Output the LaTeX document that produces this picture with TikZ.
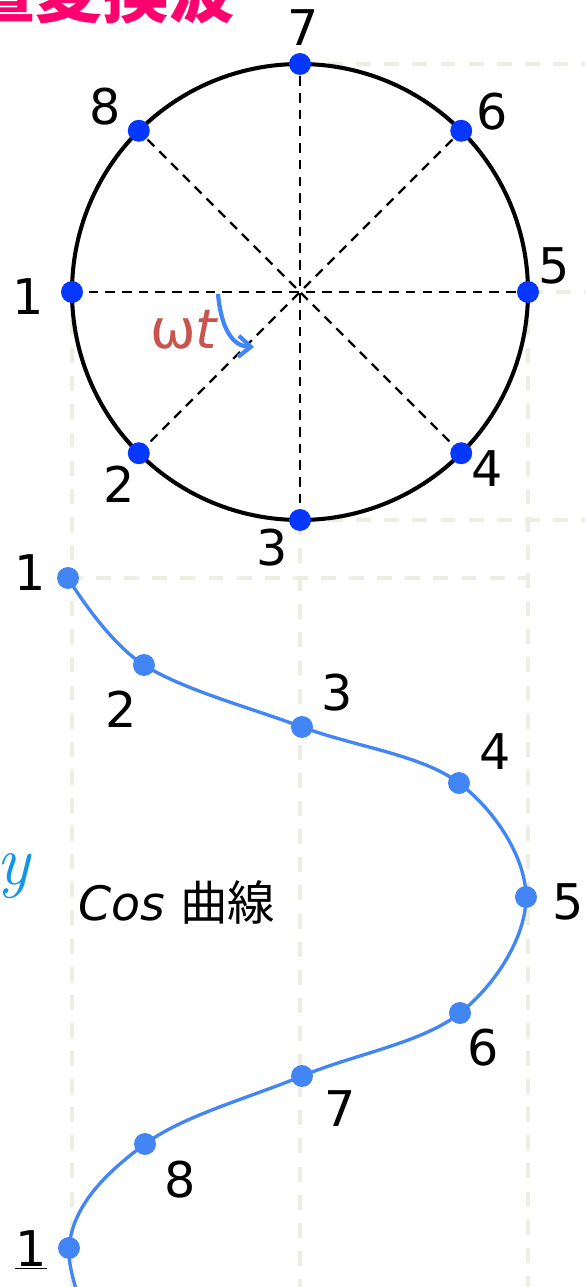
\documentclass[tikz,border=0pt]{standalone}
\usepackage{fontspec}
\setmainfont{DejaVu Sans}
\newfontfamily\jpfont{Noto Sans CJK JP}
\newfontfamily\lmroman{Latin Modern Roman}
\usetikzlibrary{arrows.meta}

\begin{document}
\begin{tikzpicture}[x=0.02cm, y=-0.02cm, line join=round]

    % --- Colors ---
    \definecolor{guidebeige}{RGB}{238,237,226}
    \definecolor{ringdot}{RGB}{5,55,255}
    \definecolor{wavecol}{RGB}{66,133,244}
    \definecolor{omegared}{RGB}{201,84,78}
    \definecolor{ycol}{RGB}{20,150,230}
    \definecolor{titlepink}{RGB}{255,0,110}

    \tikzset{
        guide/.style={guidebeige, line width=2.3pt, dash pattern=on 8.5pt off 7.5pt},
        diam/.style={black, line width=1.3pt, dash pattern=on 5.5pt off 4pt},
        ringpt/.style={circle, fill=ringdot, inner sep=0pt, minimum size=12.5pt},
        wavept/.style={circle, fill=wavecol, inner sep=0pt, minimum size=12.5pt},
        num/.style={font=\fontsize{28}{30}\selectfont, inner sep=0pt},
    }

    \useasboundingbox (0,0) rectangle (585,1287);

    % --- Coordinates ---
    \coordinate (ctr) at (300,292);
    \coordinate (bot) at (0,1287);
    \coordinate (redge) at (585,0);
    \foreach \k in {1,...,8} {
        \path (ctr) ++({180-45*(\k-1)}:228) coordinate (c\k);
    }

    % Cos curve points
    \coordinate (p1) at (68,578);
    \coordinate (p2) at (144,665);
    \coordinate (p3) at (302,727);
    \coordinate (p4) at (459,783);
    \coordinate (p5) at (526,897);
    \coordinate (p6) at (460,1013);
    \coordinate (p7) at (302,1076);
    \coordinate (p8) at (145,1144);
    \coordinate (p9) at (69,1248);
    \coordinate (tail) at (125,1400);

    % --- 1. Guide lines (underneath) ---
    \draw[guide] (c1) -- (c1 |- bot);
    \draw[guide] (c3) -- (c3 |- bot);
    \draw[guide] (c5) -- (c5 |- bot);
    \draw[guide] (c7) -- (c7 -| redge);
    \draw[guide] (c5) -- (c5 -| redge);
    \draw[guide] (c3) -- (c3 -| redge);
    \draw[guide] (p1) -- (p1 -| c5);

    % --- 2. Circle and diameters ---
    \draw[line width=2.3pt] (ctr) circle[radius=228];
    \foreach \a/\b in {1/5, 2/6, 3/7, 4/8} {
        \draw[diam] (c\a) -- (c\b);
    }

    % --- 3. Angle arrow ---
    \coordinate (arcstart) at (218,294);
    \coordinate (arcend) at (254,347);
    \draw[wavecol, line width=2.4pt, -{Straight Barb[length=7pt, width=12pt]}]
        (arcstart) .. controls (221,326) and (231,346) .. (arcend);
    \node[text=omegared, font=\fontsize{31}{34}\selectfont, anchor=base west, inner sep=0pt]
        (omt) at (150,348) {ω\textit{t}};

    % --- 4. Cos curve ---
    \draw[wavecol, line width=1.9pt] plot[smooth, tension=0.6]
        coordinates {(p1) (p2) (p3) (p4) (p5) (p6) (p7) (p8) (p9) (tail)};

    % --- 5. Points ---
    \foreach \k in {1,...,8} {
        \node[ringpt] (d\k) at (c\k) {};
    }
    \foreach \k in {1,...,9} {
        \node[wavept] (w\k) at (p\k) {};
    }

    % --- 6. Labels ---
    % circle
    \node[num] (r7) at (303,28) {7};
    \node[num] (r8) at (105,107) {8};
    \node[num] (r6) at (492,112) {6};
    \node[num] (r5) at (554,266) {5};
    \node[num] (r1) at (28,297) {1};
    \node[num] (r2) at (119,484) {2};
    \node[num] (r3) at (272,548) {3};
    \node[num] (r4) at (487,469) {4};

    % curve
    \node[num] (q1) at (30,573) {1};
    \node[num] (q2) at (121,709) {2};
    \node[num] (q3) at (337,693) {3};
    \node[num] (q4) at (495,752) {4};
    \node[num] (q5) at (568,902) {5};
    \node[num] (q6) at (483,1048) {6};
    \node[num] (q7) at (340,1109) {7};
    \node[num] (q8) at (180,1180) {8};
    \node[num, anchor=base] (q9) at (31,1266) {\underline{1}};

    \node[font=\fontsize{27}{30}\selectfont, anchor=base west, inner sep=0pt]
        (cosname) at (78,920) {\textit{Cos} {\jpfont 曲線}};

    \node[text=ycol, font=\lmroman\itshape\fontsize{40}{42}\selectfont, anchor=base west, inner sep=0pt]
        (ylab) at (-4,884) {y};

    % title (cut off by the page edge)
    \node[text=titlepink, font=\jpfont\bfseries\fontsize{38}{40}\selectfont, anchor=base east, inner sep=0pt]
        (title) at (236,18) {位置変換波};

\end{tikzpicture}
\end{document}
